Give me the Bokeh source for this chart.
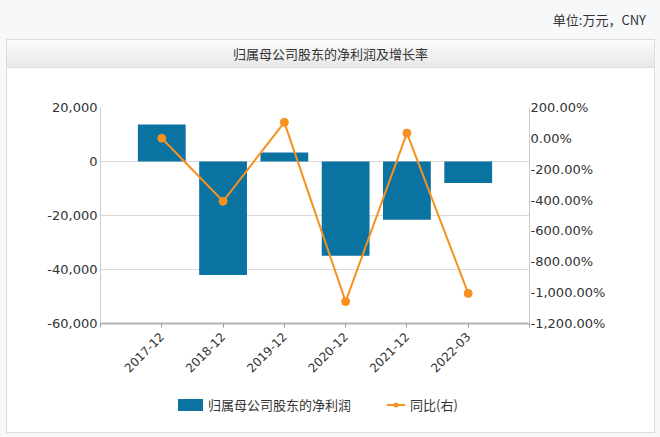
from math import pi
from bokeh.plotting import figure
from bokeh.layouts import column
from bokeh.models import (Range1d, LinearAxis, FixedTicker, NumeralTickFormatter,
                          CustomJSTickFormatter, ColumnDataSource, Div)
from bokeh.embed import file_html
from bokeh.resources import INLINE

# ---- data ----
categories = ["2017-12", "2018-12", "2019-12", "2020-12", "2021-12", "2022-03"]
net_profit = [13700, -42000, 3300, -34900, -21600, -8000]          # 万元
yoy_pct = [1.0, -408.0, 104.0, -1058.0, 34.0, -1005.0]              # %
left_ticks = [-60000, -40000, -20000, 0, 20000]
right_ticks = [-1200, -1000, -800, -600, -400, -200, 0, 200]
chart_title = "归属母公司股东的净利润及增长率"
unit_text = "单位:万元，CNY"
series_names = ["归属母公司股东的净利润", "同比(右)"]

BAR_COLOR = "#0a73a1"
LINE_COLOR = "#f7901e"
TEXT_COLOR = "#333333"
NUM_FONT = "DejaVu Sans"
CJK_FONT = "Noto Sans CJK SC"

n = len(categories)
xs = list(range(1, n + 1))
src = ColumnDataSource(dict(x=xs, profit=net_profit, yoy=yoy_pct, cat=categories))

# page decoration (outer grey page, white panel with border, title bar gradient)
panel_bg = ", ".join([
    "linear-gradient(#dcdde0, #dcdde0) 7px 67px / 647px 1px no-repeat",
    "linear-gradient(#fbfbfb, #e8e8e8) 7px 40px / 647px 27px no-repeat",
    "linear-gradient(#ffffff, #ffffff) 7px 40px / 647px 392px no-repeat",
    "linear-gradient(#dcdde0, #dcdde0) 6px 39px / 649px 394px no-repeat",
    "#f7f8fa",
])

p = figure(width=660, height=322, output_backend="svg", toolbar_location=None,
           x_range=Range1d(0, n + 1), y_range=Range1d(left_ticks[0], left_ticks[-1]),
           min_border_left=100, min_border_right=131, min_border_top=39,
           min_border_bottom=67, margin=0)
p.title.visible = False
p.border_fill_alpha = 0
p.background_fill_color = "white"
p.outline_line_color = None

p.extra_y_ranges = {"pct": Range1d(right_ticks[0], right_ticks[-1])}

# ---- glyphs ----
bars = p.vbar(x="x", top="profit", bottom=0, width=0.78, source=src,
              fill_color=BAR_COLOR, line_color=None)
line = p.line(x="x", y="yoy", source=src, y_range_name="pct",
              line_color=LINE_COLOR, line_width=2)
dots = p.scatter(x="x", y="yoy", source=src, y_range_name="pct", size=8,
                 fill_color=LINE_COLOR, line_color=LINE_COLOR)

# ---- axes ----
xa = p.xaxis[0]
xa.ticker = FixedTicker(ticks=list(range(0, n + 2)))
overrides = {0: "", n + 1: ""}
for xi, c in zip(xs, categories):
    overrides[xi] = c
xa.major_label_overrides = overrides
xa.major_label_orientation = pi / 4
xa.major_label_text_font = NUM_FONT
xa.major_label_text_font_size = "12px"
xa.major_label_text_color = TEXT_COLOR
xa.major_label_standoff = 7
xa.axis_line_color = "#b4b4b4"
xa.axis_line_width = 2
xa.major_tick_line_color = "#999999"
xa.major_tick_out = 4
xa.major_tick_in = 0
xa.minor_tick_line_color = None

ya = p.yaxis[0]
ya.ticker = FixedTicker(ticks=left_ticks)
ya.formatter = NumeralTickFormatter(format="0,0")
ya.major_label_text_font = NUM_FONT
ya.major_label_text_font_size = "13px"
ya.major_label_text_color = TEXT_COLOR
ya.major_label_standoff = 3
ya.axis_line_color = "#cccccc"
ya.major_tick_out = 0
ya.major_tick_in = 0
ya.minor_tick_line_color = None

ra = LinearAxis(y_range_name="pct", ticker=FixedTicker(ticks=right_ticks),
                formatter=CustomJSTickFormatter(code="""
return tick.toLocaleString('en-US', {minimumFractionDigits: 2, maximumFractionDigits: 2}) + '%';
"""))
ra.major_label_text_font = NUM_FONT
ra.major_label_text_font_size = "13px"
ra.major_label_text_color = TEXT_COLOR
ra.major_label_standoff = 1
ra.axis_line_color = "#cccccc"
ra.major_tick_out = 0
ra.major_tick_in = 0
ra.minor_tick_line_color = None
p.add_layout(ra, "right")

p.xgrid.visible = False
p.ygrid.ticker = FixedTicker(ticks=left_ticks)
p.ygrid.grid_line_color = "#d9d9d9"
p.ygrid.grid_line_width = 1

# ---- texts around the chart ----
text_css = {"font-family": CJK_FONT, "font-size": "13px", "color": TEXT_COLOR}

unit_div = Div(text=unit_text, width=660, height=39, margin=0,
               styles=dict(text_css, **{"text-align": "right", "line-height": "39px",
                                        "padding-right": "14px",
                                        "box-sizing": "border-box"}))
title_div = Div(text=chart_title, width=660, height=29, margin=0,
                styles=dict(text_css, **{"text-align": "center", "line-height": "29px",
                                         "padding-left": "1px",
                                         "box-sizing": "border-box"}))

legend_html = (
    '<div style="display:flex;align-items:center;height:30px;padding-top:0px;'
    'padding-left:178px;font-family:\'%s\';font-size:13px;color:%s;white-space:nowrap;">'
    '<span style="display:inline-block;width:25px;height:12px;background:%s;"></span>'
    '<span style="margin-left:5px;">%s</span>'
    '<svg width="18" height="10" style="margin-left:36px;">'
    '<line x1="0" y1="5" x2="18" y2="5" stroke="%s" stroke-width="2"/>'
    '<circle cx="9" cy="5" r="2.5" fill="%s"/></svg>'
    '<span style="margin-left:5px;">%s</span>'
    '</div>'
) % (CJK_FONT, TEXT_COLOR, BAR_COLOR, series_names[0], LINE_COLOR, LINE_COLOR,
     series_names[1])
legend_div = Div(text=legend_html, width=660, height=47, margin=0)

page = column(unit_div, title_div, p, legend_div, margin=0, spacing=0,
              styles={"background": panel_bg})

open("out.html", "w").write(file_html(page, INLINE))
